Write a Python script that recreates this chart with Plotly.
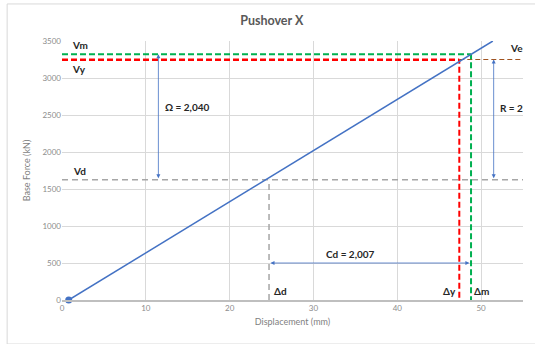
import plotly.graph_objects as go

# ---- data ----
disp = [0.8, 51.4]          # mm
force = [0, 3500]           # kN
Vm = 3320
Vy = 3245
Ve = 3250
Vd = 1625
d_y = 47.4
d_m = 48.8
d_d = 24.7
x_max = 55
omega_x = 11.5
R_x = 51.5
cd_y = 500
omega_label = "Ω = 2,040"
R_label = "R = 2"
cd_label = "Cd = 2,007"
x_ticks = [0, 10, 20, 30, 40, 50]
y_ticks = [0, 500, 1000, 1500, 2000, 2500, 3000, 3500]

BLUE = "#4472C4"
GREEN = "#00B050"
RED = "#FF0000"
GRAY = "#A6A6A6"
BROWN = "#A0521E"
FONT = "Lato"

fig = go.Figure()

def seg(x, y, color, width, dash):
    fig.add_trace(go.Scatter(x=x, y=y, mode="lines", hoverinfo="skip",
                             line=dict(color=color, width=width, dash=dash),
                             showlegend=False, cliponaxis=False))

# reference lines
seg([0, x_max], [Vd, Vd], GRAY, 1.5, "6px,4px")
seg([d_d, d_d], [0, Vd], GRAY, 1.5, "6px,4px")
seg([d_y, x_max], [Ve, Ve], BROWN, 1, "5px,3px")
seg([0, d_m], [Vm, Vm], GREEN, 2, "6px,3px")
seg([d_m, d_m], [-30, Vm], GREEN, 2, "6px,3px")
seg([0, d_y], [Vy, Vy], RED, 2.5, "6px,3px")
seg([d_y, d_y], [30, Vy], RED, 2, "6px,3px")

# pushover curve
fig.add_trace(go.Scatter(x=disp, y=force, mode="lines", line=dict(color=BLUE, width=1.5),
                         showlegend=False, hoverinfo="skip"))
fig.add_trace(go.Scatter(x=[disp[0]], y=[force[0]], mode="markers",
                         marker=dict(color=BLUE, size=7), showlegend=False,
                         hoverinfo="skip", cliponaxis=False))

def darrow(x0, y0, x1, y1):
    fig.add_annotation(x=x1, y=y1, ax=x0, ay=y0, xref="x", yref="y", axref="x", ayref="y",
                       text="", showarrow=True, arrowhead=2, startarrowhead=2,
                       arrowside="end+start", arrowsize=1, arrowwidth=0.8, arrowcolor=BLUE,
                       standoff=0, startstandoff=0)

darrow(omega_x, Vd, omega_x, Vm)
darrow(R_x, Vd, R_x, Ve)
darrow(d_d, cd_y, d_m - 0.2, cd_y)

def label(x, y, text, anchor="left"):
    fig.add_annotation(x=x, y=y, xref="x", yref="y", text="<b>%s</b>" % text, showarrow=False,
                       xanchor=anchor, yanchor="middle",
                       font=dict(family=FONT, size=10, color="#262626"))

label(0.9, 3440, "Vm")
label(0.9, 3115, "Vy")
label(1.1, 1750, "Vd")
label(53.2, 3400, "Ve")
label(12.0, 2610, omega_label)
label(52.0, 2590, R_label)
label(31.2, 620, cd_label)
label(25.1, 120, "Δd")
label(45.2, 120, "Δy")
label(48.9, 120, "Δm")

# chart border
fig.add_shape(type="rect", xref="paper", yref="paper", x0=-0.119, x1=1.03, y0=-0.17, y1=1.143,
              line=dict(color="#D9D9D9", width=1))

fig.update_layout(
    width=535, height=344,
    margin=dict(l=62, r=12, t=41, b=44),
    paper_bgcolor="white", plot_bgcolor="white",
    title=dict(text="<b>Pushover X</b>", x=0.508, xanchor="center", y=0.94, yanchor="middle",
               font=dict(family=FONT, size=12.5, color="#595959")),
    font=dict(family=FONT),
)
fig.update_xaxes(range=[0, x_max], tickvals=x_ticks, showgrid=True, gridcolor="#D9D9D9",
                 gridwidth=1, zeroline=False, showline=True, linecolor="#BFBFBF", linewidth=1.5,
                 ticks="", tickfont=dict(family=FONT, size=8, color="#8C8C8C"),
                 title=dict(text="Displacement (mm)", standoff=6,
                            font=dict(family=FONT, size=9, color="#7F7F7F")))
fig.update_yaxes(range=[0, 3500], tickvals=y_ticks, showgrid=True, gridcolor="#D9D9D9",
                 gridwidth=1, zeroline=False, showline=False, ticks="",
                 tickfont=dict(family=FONT, size=8, color="#8C8C8C"),
                 title=dict(text="Base Force (kN)", standoff=10,
                            font=dict(family=FONT, size=9, color="#7F7F7F")))

fig.write_html("out.html")
